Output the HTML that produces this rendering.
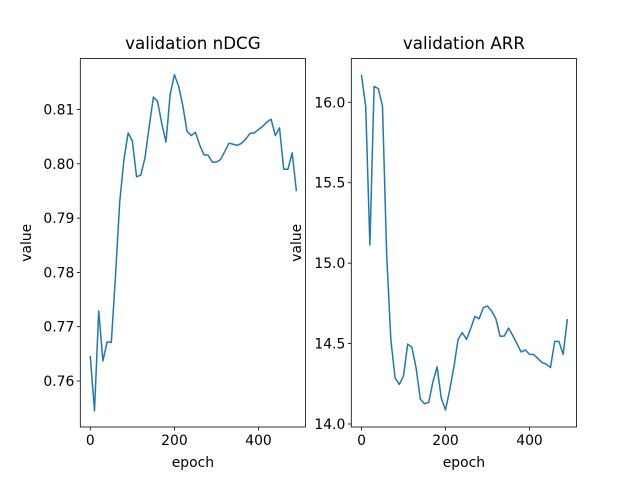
<!DOCTYPE html>
<html><head><meta charset="utf-8"><style>
html,body{margin:0;padding:0;background:#fff}
svg{display:block;font-family:"DejaVu Sans","Liberation Sans",sans-serif}
</style></head><body>
<svg id="fig" width="640" height="480" viewBox="0 0 640 480" xmlns="http://www.w3.org/2000/svg"></svg>
<script>
const epochs = Array.from({length:50},(_,i)=>i*10);
const ndcgValues = [0.7645,0.7545,0.7729,0.7637,0.7672,0.7671,0.7795,0.7930,0.8008,0.8057,
0.8042,0.7976,0.7979,0.8011,0.8068,0.8123,0.8115,0.8074,0.8040,0.8128,
0.8164,0.8143,0.8107,0.8060,0.8052,0.8058,0.8035,0.8017,0.8016,0.8003,
0.8003,0.8008,0.8023,0.8038,0.8036,0.8034,0.8038,0.8046,0.8056,0.8057,
0.8063,0.8069,0.8077,0.8082,0.8052,0.8066,0.7990,0.7990,0.8020,0.7951];
const arrValues = [16.167,15.975,15.113,16.099,16.085,15.975,15.046,14.520,14.287,14.246,
14.299,14.497,14.477,14.349,14.155,14.126,14.134,14.262,14.355,14.159,
14.087,14.211,14.355,14.526,14.568,14.526,14.593,14.669,14.654,14.723,
14.733,14.702,14.654,14.545,14.547,14.596,14.551,14.500,14.448,14.460,
14.433,14.432,14.407,14.382,14.372,14.351,14.514,14.514,14.433,14.648];
const xTicks = [0,200,400];
const ndcgTicks = [0.76,0.77,0.78,0.79,0.80,0.81];
const ndcgTickLabels = ["0.76","0.77","0.78","0.79","0.80","0.81"];
const arrTicks = [14.0,14.5,15.0,15.5,16.0];
const arrTickLabels = ["14.0","14.5","15.0","15.5","16.0"];

const NS="http://www.w3.org/2000/svg";
const svg=document.getElementById('fig');
function mk(tag,attrs,parent){const e=document.createElementNS(NS,tag);for(const k in attrs)e.setAttribute(k,attrs[k]);(parent||svg).appendChild(e);return e;}

function panel(cfg){
  const g=mk('g',{});
  
  
  const xs=v=>cfg.x0+(v-0)*(cfg.x400-cfg.x0)/400;
  const ys=v=>cfg.yA+(v-cfg.vA)*(cfg.yB-cfg.yA)/(cfg.vB-cfg.vA);
  // line
  const d=cfg.values.map((v,i)=>(i?'L':'M')+xs(epochs[i]).toFixed(2)+','+ys(v).toFixed(2)).join(' ');
  const p=mk('path',{d:d,fill:'none',stroke:'#1f77b4','stroke-width':1.5,'stroke-linejoin':'round','stroke-linecap':'square'},g);
  
  
  // frame
  const fr=mk('rect',{x:cfg.L,y:cfg.T,width:cfg.R-cfg.L,height:cfg.B-cfg.T,fill:'none',stroke:'#000','stroke-width':0.8},g);
  
  
  // x ticks
  xTicks.forEach(t=>{
    const x=xs(t);
    mk('line',{x1:x,x2:x,y1:cfg.B,y2:cfg.B+3.5,stroke:'#000','stroke-width':0.8},g);
    const tx=mk('text',{x:x,y:cfg.B+18,'font-size':13.9,'text-anchor':'middle',fill:'#000'},g);
    tx.textContent=String(t);
    
    
  });
  cfg.yTicks.forEach((t,i)=>{
    const y=ys(t);
    mk('line',{x1:cfg.L-3.5,x2:cfg.L,y1:y,y2:y,stroke:'#000','stroke-width':0.8},g);
    const tx=mk('text',{x:cfg.L-6,y:y+5,'font-size':13.9,'text-anchor':'end',fill:'#000'},g);
    tx.textContent=cfg.yLabels[i];
    
    
  });
  const ti=mk('text',{x:(cfg.L+cfg.R)/2,y:49,'font-size':16.7,'text-anchor':'middle',fill:'#000'},g);
  ti.textContent=cfg.title;
  
  
  const xl=mk('text',{x:(cfg.L+cfg.R)/2,y:467,'font-size':13.9,'text-anchor':'middle',fill:'#000'},g);
  xl.textContent='epoch';
  
  
  const yl=mk('text',{x:0,y:0,'font-size':13.9,'text-anchor':'middle',fill:'#000',transform:'translate('+cfg.ylx+','+((cfg.T+cfg.B)/2)+') rotate(-90)'},g);
  yl.textContent='value';
  
  
}
panel({name:'ndcg-panel',title:'validation nDCG',values:ndcgValues,L:80.3,R:305.5,T:58.5,B:427,x0:90.3,x400:258.5,
  yA:381,vA:0.76,yB:109.5,vB:0.81,yTicks:ndcgTicks,yLabels:ndcgTickLabels,ylx:31});
panel({name:'arr-panel',title:'validation ARR',values:arrValues,L:351.3,R:576.5,T:58.5,B:427,x0:361.5,x400:529.5,
  yA:424,vA:14.0,yB:102.3,vB:16.0,yTicks:arrTicks,yLabels:arrTickLabels,ylx:301});
</script>
</body></html>
